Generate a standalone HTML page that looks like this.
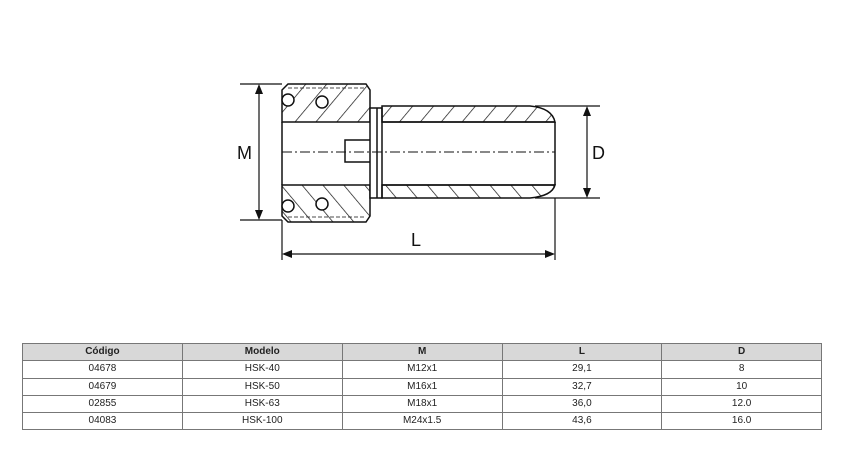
<!DOCTYPE html>
<html><head><style>
body{margin:0;background:#fff;width:844px;height:452px;overflow:hidden;font-family:"Liberation Sans",sans-serif}
table{position:absolute;left:22px;top:343px;width:800px;border-collapse:collapse;font-size:10px;color:#222}
td,th{border:1.5px solid #777;height:16.3px;padding:0;text-align:center;font-weight:normal;width:160px;line-height:14px}
th{background:#d8d8d8;font-weight:bold}
</style></head><body>
<svg width="844" height="340" style="position:absolute;left:0;top:0" font-family="Liberation Sans, sans-serif">
<defs>
<pattern id="h" width="16" height="16" patternUnits="userSpaceOnUse" patternTransform="rotate(40)">
<line x1="0" y1="0" x2="0" y2="16" stroke="#111" stroke-width="1.4"/></pattern>
<pattern id="h2" width="16" height="16" patternUnits="userSpaceOnUse" patternTransform="rotate(-40)">
<line x1="0" y1="0" x2="0" y2="16" stroke="#111" stroke-width="1.4"/></pattern>
</defs>
<g stroke="#111" stroke-width="1.5" fill="none">
<path d="M288 84 L366 84 L370 90 L370 122 L282 122 L282 90 Z" fill="url(#h)"/>
<path d="M282 185 L370 185 L370 216 L366 222 L288 222 L282 216 Z" fill="url(#h2)"/>
<path d="M282 122 L282 185"/>
<circle cx="288" cy="100" r="6" fill="#fff"/><circle cx="322" cy="102" r="6" fill="#fff"/>
<circle cx="288" cy="206" r="6" fill="#fff"/><circle cx="322" cy="204" r="6" fill="#fff"/>
<path d="M288 88 L366 88 M288 217 L366 217" stroke-dasharray="4 2" stroke-width="0.8"/>
<rect x="370" y="108" width="12" height="90" fill="#fff"/>
<line x1="377" y1="108" x2="377" y2="198"/>
<path d="M370 140 L345 140 L345 162 L370 162"/>
<path d="M382 106 L530 106 Q552 108 555 122 L382 122 Z" fill="url(#h)"/>
<path d="M382 185 L555 185 Q552 196 530 198 L382 198 Z" fill="url(#h2)"/>
<line x1="382" y1="122" x2="555" y2="122"/><line x1="382" y1="185" x2="555" y2="185"/>
<line x1="555" y1="122" x2="555" y2="185"/>
<line x1="282" y1="152" x2="555" y2="152" stroke-dasharray="10 3 2 3" stroke-width="0.9"/>
<line x1="240" y1="84" x2="282" y2="84" stroke-width="1.2"/><line x1="240" y1="220" x2="282" y2="220" stroke-width="1.2"/>
<line x1="259" y1="90" x2="259" y2="214" stroke-width="1.2"/>
<line x1="535" y1="106" x2="600" y2="106" stroke-width="1.2"/><line x1="535" y1="198" x2="600" y2="198" stroke-width="1.2"/>
<line x1="587" y1="112" x2="587" y2="192" stroke-width="1.2"/>
<line x1="282" y1="220" x2="282" y2="260" stroke-width="1.2"/><line x1="555" y1="198" x2="555" y2="260" stroke-width="1.2"/>
<line x1="288" y1="254" x2="549" y2="254" stroke-width="1.2"/>
</g>
<g fill="#111">
<path d="M259 84 L255 94 L263 94 Z"/><path d="M259 220 L255 210 L263 210 Z"/>
<path d="M587 106 L583 116 L591 116 Z"/><path d="M587 198 L583 188 L591 188 Z"/>
<path d="M282 254 L292 250 L292 258 Z"/><path d="M555 254 L545 250 L545 258 Z"/>
<text x="237" y="159" font-size="18">M</text>
<text x="592" y="159" font-size="18">D</text>
<text x="411" y="246" font-size="18">L</text>
</g>
</svg>
<table>
<tr><th>Código</th><th>Modelo</th><th>M</th><th>L</th><th>D</th></tr>
<tr><td>04678</td><td>HSK-40</td><td>M12x1</td><td>29,1</td><td>8</td></tr>
<tr><td>04679</td><td>HSK-50</td><td>M16x1</td><td>32,7</td><td>10</td></tr>
<tr><td>02855</td><td>HSK-63</td><td>M18x1</td><td>36,0</td><td>12.0</td></tr>
<tr><td>04083</td><td>HSK-100</td><td>M24x1.5</td><td>43,6</td><td>16.0</td></tr>
</table>
</body></html>
